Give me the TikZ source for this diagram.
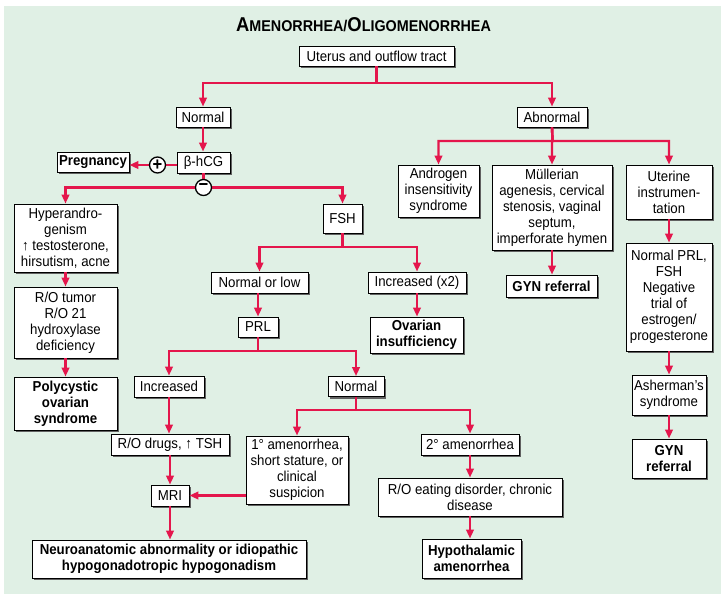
\documentclass[tikz,border=0pt]{standalone}
\usepackage{fontspec}
\setmainfont{Liberation Sans}[FakeStretch=0.92]
\usetikzlibrary{arrows.meta,shadows}
\definecolor{bg}{RGB}{224,240,229}
\definecolor{arrc}{RGB}{228,22,76}
\begin{document}
\begin{tikzpicture}[x=1pt,y=-1pt,
  box/.style={draw, fill=white, line width=0.8pt, align=center, inner xsep=2pt, inner ysep=1pt,
    drop shadow={shadow xshift=2.2pt, shadow yshift=-2.2pt, fill=black!62, opacity=1},
    font=\fontsize{14.4}{16}\selectfont},
  bbox/.style={box, font=\fontsize{14.4}{16}\selectfont\bfseries},
  arr/.style={draw=arrc, line width=2.4pt, -{Triangle[length=9pt,width=7.5pt]}},
  ln/.style={draw=arrc, line width=2.4pt},
  pm/.style={circle, draw, fill=white, line width=1.3pt, minimum size=16pt, inner sep=0pt,
    font=\fontsize{18}{18}\selectfont\bfseries}]
\useasboundingbox (0,0) rectangle (721,595);
\fill[bg] (4,6) rectangle (721,594);

\node[anchor=base] (title) at (363.5,31.7) {\bfseries\fontsize{20}{20}\selectfont A\fontsize{15.6}{20}\selectfont MENORRHEA/\fontsize{20}{20}\selectfont O\fontsize{15.6}{20}\selectfont LIGOMENORRHEA};

% boxes
\node[box, minimum width=155pt, minimum height=20pt] (uterus) at (376.5,56) {Uterus and outflow tract};
\node[box, minimum width=54pt, minimum height=20pt] (normal1) at (203,117) {Normal};
\node[box, minimum width=70pt, minimum height=20pt] (abnormal) at (552,117) {Abnormal};
\node[box, minimum width=53pt, minimum height=21pt] (hcg) at (203.5,162.5) {β-hCG};
\node[bbox, minimum width=72pt, minimum height=20pt] (preg) at (93,162) {Pregnancy};
\node[box, minimum width=103pt, minimum height=68pt] (hyper) at (65.5,238) {Hyperandro-\\genism\\↑ testosterone,\\hirsutism, acne};
\node[box, minimum width=103pt, minimum height=71pt] (rotumor) at (65.5,322.5) {R/O tumor\\R/O 21\\hydroxylase\\deficiency};
\node[bbox, minimum width=103pt, minimum height=53pt] (pcos) at (65.5,403.5) {Polycystic\\ovarian\\syndrome};
\node[box, minimum width=39pt, minimum height=29pt] (fsh) at (342.5,218.5) {FSH};
\node[box, minimum width=97pt, minimum height=21pt] (normlow) at (259.5,282.5) {Normal or low};
\node[box, minimum width=98pt, minimum height=21pt] (incx2) at (417,282.5) {Increased (x2)};
\node[bbox, minimum width=93pt, minimum height=36pt] (ovarian) at (416.5,335) {Ovarian\\insufficiency};
\node[box, minimum width=40pt, minimum height=20pt] (prl) at (258,327) {PRL};
\node[box, minimum width=70pt, minimum height=21pt] (inc) at (169,386.5) {Increased};
\node[box, minimum width=56pt, minimum height=20pt] (normal2) at (356,386.5) {Normal};
\node[box, minimum width=102pt, minimum height=68pt] (ami1) at (297,470) {1° amenorrhea,\\short stature, or\\clinical\\suspicion};
\node[box, minimum width=98pt, minimum height=21pt] (ami2) at (470,444.5) {2° amenorrhea};
\node[box, minimum width=184pt, minimum height=38pt] (roeat) at (470,497) {R/O eating disorder, chronic\\disease};
\node[bbox, minimum width=99pt, minimum height=39pt] (hypoth) at (471.5,558.5) {Hypothalamic\\amenorrhea};
\node[box, minimum width=118pt, minimum height=21pt] (rodrugs) at (170,444.5) {R/O drugs, ↑ TSH};
\node[box, minimum width=38pt, minimum height=21pt] (mri) at (170,495.5) {MRI};
\node[bbox, minimum width=274pt, minimum height=38pt] (neuro) at (169,559) {Neuroanatomic abnormality or idiopathic\\hypogonadotropic hypogonadism};
\node[box, minimum width=81pt, minimum height=52pt] (androgen) at (438.5,191) {Androgen\\insensitivity\\syndrome};
\node[box, minimum width=120pt, minimum height=85pt] (mullerian) at (552,207.5) {Müllerian\\agenesis, cervical\\stenosis, vaginal\\septum,\\imperforate hymen};
\node[box, minimum width=86pt, minimum height=54pt] (uterine) at (669,192) {Uterine\\instrumen-\\tation};
\node[bbox, minimum width=91pt, minimum height=22pt] (gyn1) at (551.5,286) {GYN referral};
\node[box, minimum width=86pt, minimum height=108pt] (normprl) at (669,297) {Normal PRL,\\FSH\\Negative\\trial of\\estrogen/\\progesterone};
\node[box, minimum width=74pt, minimum height=40pt] (asherman) at (669,395) {Asherman’s\\syndrome};
\node[bbox, minimum width=74pt, minimum height=39pt] (gyn2) at (669,458.5) {GYN\\referral};

% connectors
\coordinate (j1) at (376.5,83);
\draw[arr] (uterus.south) -- (j1) -| (normal1.north);
\draw[arr] (uterus.south) -- (j1) -| (abnormal.north);
\draw[arr] (normal1.south) -- (normal1.south |- hcg.north);
\coordinate (pj) at (157.5,165);
\draw[arr] (hcg.west |- pj) -- (preg.east |- pj);
\node[pm] (plus) at (pj) {+};
\coordinate (mj) at (203.5,187.5);
\draw[ln] (hcg.south) -- (mj);
\draw[arr] (mj) -| (hyper.north);
\draw[arr] (mj) -| (fsh.north);
\node[pm] (minus) at (mj) {−};
\draw[arr] (hyper.south) -- (hyper.south |- rotumor.north);
\draw[arr] (rotumor.south) -- (rotumor.south |- pcos.north);

\coordinate (j2) at (342.5,247);
\draw[arr] (fsh.south) -- (j2) -| (normlow.north);
\draw[arr] (fsh.south) -- (j2) -| (incx2.north);
\draw[arr] (incx2.south) -- (incx2.south |- ovarian.north);
\draw[arr] (prl.north |- normlow.south) -- (prl.north);

\coordinate (j3) at (258,351);
\draw[arr] (prl.south) -- (j3) -| (inc.north);
\draw[arr] (prl.south) -- (j3) -| (normal2.north);
\draw[arr] (inc.south) -- (inc.south |- rodrugs.north);
\draw[arr] (rodrugs.south) -- (rodrugs.south |- mri.north);
\draw[arr] (mri.south) -- (mri.south |- neuro.north);

\coordinate (j4) at (356,410);
\draw[arr] (normal2.south) -- (j4) -| (ami1.north);
\draw[arr] (normal2.south) -- (j4) -| (ami2.north);
\draw[arr] (ami1.west |- mri.east) -- (mri.east);
\draw[arr] (ami2.south) -- (ami2.south |- roeat.north);
\draw[arr] (roeat.south) -- (roeat.south |- hypoth.north);

\coordinate (j5) at (552.5,141);
\draw[arr] (abnormal.south) -- (j5) -| (androgen.north);
\draw[arr] (abnormal.south) -- (j5) -| (mullerian.north);
\draw[arr] (abnormal.south) -- (j5) -| (uterine.north);
\draw[arr] (mullerian.south) -- (mullerian.south |- gyn1.north);
\draw[arr] (uterine.south) -- (uterine.south |- normprl.north);
\draw[arr] (normprl.south) -- (normprl.south |- asherman.north);
\draw[arr] (asherman.south) -- (asherman.south |- gyn2.north);
\end{tikzpicture}
\end{document}
